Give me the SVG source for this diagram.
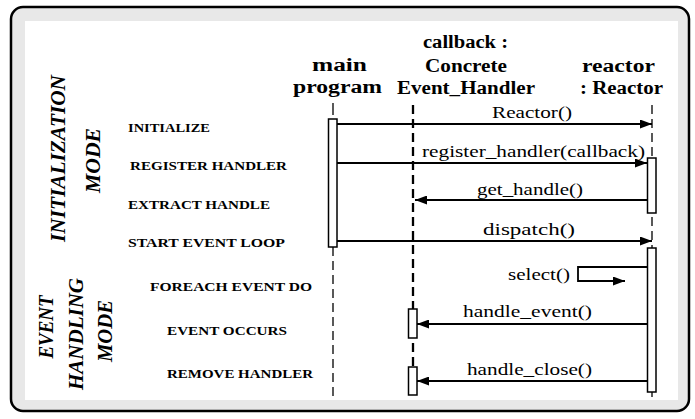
<svg xmlns="http://www.w3.org/2000/svg" width="695" height="419" viewBox="0 0 695 419">
<style>
text{font-family:"Liberation Serif","Times New Roman",serif;fill:#000}
.hd{font-weight:bold;font-size:18px}
.lb{font-weight:bold;font-size:13px}
.md{font-weight:bold;font-style:italic;font-size:20px}
.msg{font-size:17px}
.ln{stroke:#000;stroke-width:1.8;fill:none}
.box{fill:#fff;stroke:#000;stroke-width:1.5}
.dash{stroke:#000;fill:none;stroke-dasharray:9 5}
</style>
<defs>
<marker id="ah" markerWidth="13" markerHeight="9" refX="12" refY="4.5" orient="auto" markerUnits="userSpaceOnUse">
<path d="M0,0 L12,4.5 L0,9 Z" fill="#000"/>
</marker>
</defs>
<g id="frame">
<rect x="11" y="7" width="678" height="404" rx="12" fill="#e8e8e8" stroke="#000" stroke-width="2.5"/>
<rect x="25" y="21" width="653" height="379" fill="#fff"/>
</g>
<g id="modes">
<text class="md" transform="translate(65,158.5) rotate(-90)" text-anchor="middle" textLength="167" lengthAdjust="spacingAndGlyphs">INITIALIZATION</text>
<text class="md" transform="translate(100,160.5) rotate(-90)" text-anchor="middle" textLength="65" lengthAdjust="spacingAndGlyphs">MODE</text>
<text class="md" transform="translate(53,327) rotate(-90)" text-anchor="middle" textLength="63" lengthAdjust="spacingAndGlyphs">EVENT</text>
<text class="md" transform="translate(83,334) rotate(-90)" text-anchor="middle" textLength="112" lengthAdjust="spacingAndGlyphs">HANDLING</text>
<text class="md" transform="translate(112,331) rotate(-90)" text-anchor="middle" textLength="62" lengthAdjust="spacingAndGlyphs">MODE</text>
</g>
<g id="steps">
<text class="lb" x="128" y="132" textLength="82" lengthAdjust="spacingAndGlyphs">INITIALIZE</text>
<text class="lb" x="130" y="170" textLength="157" lengthAdjust="spacingAndGlyphs">REGISTER HANDLER</text>
<text class="lb" x="128" y="209" textLength="142" lengthAdjust="spacingAndGlyphs">EXTRACT HANDLE</text>
<text class="lb" x="128" y="247" textLength="157" lengthAdjust="spacingAndGlyphs">START EVENT LOOP</text>
<text class="lb" x="150" y="291" textLength="162" lengthAdjust="spacingAndGlyphs">FOREACH EVENT DO</text>
<text class="lb" x="167" y="335" textLength="120" lengthAdjust="spacingAndGlyphs">EVENT OCCURS</text>
<text class="lb" x="167" y="378" textLength="146" lengthAdjust="spacingAndGlyphs">REMOVE HANDLER</text>
</g>
<g id="main">
<text class="hd" x="312" y="71" textLength="55" lengthAdjust="spacingAndGlyphs">main</text>
<text class="hd" x="293" y="93" textLength="89" lengthAdjust="spacingAndGlyphs">program</text>
<line x1="333" y1="103" x2="333" y2="115" stroke="#000" stroke-width="1.3"/>
<line class="dash" x1="333" y1="247" x2="333" y2="398" stroke-width="1.3"/>
<rect class="box" x="328.5" y="119" width="8.5" height="128"/>
</g>
<g id="callback">
<text class="hd" x="423" y="48" textLength="85" lengthAdjust="spacingAndGlyphs">callback :</text>
<text class="hd" x="425" y="72" textLength="82" lengthAdjust="spacingAndGlyphs">Concrete</text>
<text class="hd" x="397" y="94" textLength="138" lengthAdjust="spacingAndGlyphs">Event_Handler</text>
<line class="dash" x1="413" y1="105" x2="413" y2="398" stroke-width="2.3"/>
<rect class="box" x="408.5" y="309" width="8.5" height="29"/>
<rect class="box" x="408.5" y="367" width="8.5" height="28"/>
</g>
<g id="reactor">
<text class="hd" x="582" y="72" textLength="73" lengthAdjust="spacingAndGlyphs">reactor</text>
<text class="hd" x="580" y="94" textLength="83" lengthAdjust="spacingAndGlyphs">: Reactor</text>
<line class="dash" x1="652" y1="105" x2="652" y2="248" stroke-width="1.3"/>
<line x1="652" y1="392" x2="652" y2="397" stroke="#000" stroke-width="1.3"/>
<rect class="box" x="647.5" y="158" width="8.5" height="55"/>
<rect class="box" x="647.5" y="248" width="8.5" height="144"/>
</g>
<g id="connectors">
<line class="ln" x1="337" y1="124" x2="652" y2="124" marker-end="url(#ah)"/>
<line class="ln" x1="337" y1="163" x2="647" y2="163" marker-end="url(#ah)"/>
<line class="ln" x1="647" y1="200" x2="415" y2="200" marker-end="url(#ah)"/>
<line class="ln" x1="337" y1="241" x2="652" y2="241" marker-end="url(#ah)"/>
<polyline class="ln" points="647,267 578,267 578,281 625,281" marker-end="url(#ah)"/>
<line class="ln" x1="647" y1="324" x2="417" y2="324" marker-end="url(#ah)"/>
<line class="ln" x1="647" y1="381" x2="417" y2="381" marker-end="url(#ah)"/>
<text class="msg" x="492" y="118" textLength="80" lengthAdjust="spacingAndGlyphs">Reactor()</text>
<text class="msg" x="422" y="157" textLength="223" lengthAdjust="spacingAndGlyphs">register_handler(callback)</text>
<text class="msg" x="477" y="195" textLength="106" lengthAdjust="spacingAndGlyphs">get_handle()</text>
<text class="msg" x="483" y="235" textLength="92" lengthAdjust="spacingAndGlyphs">dispatch()</text>
<text class="msg" x="508" y="280" textLength="62" lengthAdjust="spacingAndGlyphs">select()</text>
<text class="msg" x="463" y="317" textLength="129" lengthAdjust="spacingAndGlyphs">handle_event()</text>
<text class="msg" x="467" y="375" textLength="125" lengthAdjust="spacingAndGlyphs">handle_close()</text>
</g>
</svg>
